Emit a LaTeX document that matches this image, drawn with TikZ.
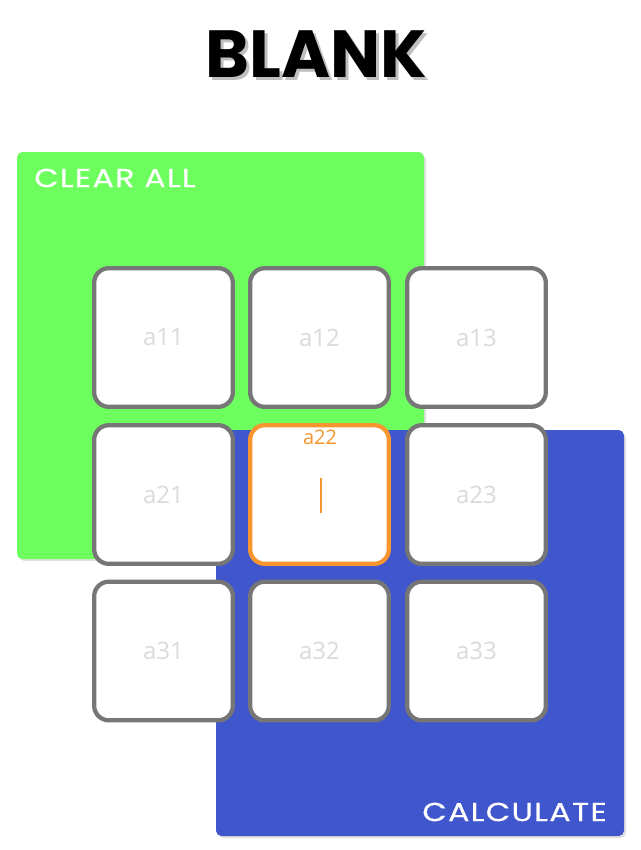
\documentclass[tikz,border=0pt]{standalone}
\usepackage{fontspec}
\setmainfont{Open Sans}
\newfontfamily\titlefont{Poppins}
\newfontfamily\btnfont[LetterSpace=5,FakeStretch=1.22,FakeBold=0.4]{Poppins}
\usetikzlibrary{positioning}
\definecolor{panelgreen}{HTML}{6CFF5E}
\definecolor{panelblue}{HTML}{4056CC}
\definecolor{cellgray}{HTML}{767676}
\definecolor{celltext}{HTML}{DADADA}
\definecolor{activeorange}{HTML}{F7962F}
\tikzset{
  cell/.style={draw=cellgray, line width=3.2pt, fill=white, rounded corners=11pt,
    minimum width=104pt, minimum height=104pt, inner sep=0pt,
    text=celltext, font=\fontsize{18}{20}\selectfont},
  activecell/.style={cell, draw=activeorange},
  panel/.style={rounded corners=4pt, draw=none},
  btntext/.style={text=white, font=\btnfont\fontsize{19.5}{22}\selectfont, inner sep=0pt},
}
\begin{document}
\begin{tikzpicture}[x=0.75pt,y=-0.75pt]
\useasboundingbox (0,0) rectangle (640,850);
\fill[white] (0,0) rectangle (640,850);
% title
\node[text=black!25, font=\titlefont\bfseries\fontsize{50}{56}\selectfont, inner sep=0pt] (titleshadow) at (319,57) {BLANK};
\node[text=black, font=\titlefont\bfseries\fontsize{50}{56}\selectfont, inner sep=0pt] (title) at (316,54) {BLANK};
% panels
\fill[black!12, panel] (19,155) rectangle (426,561);
\fill[panelgreen, panel] (17,152) rectangle (424,559);
\fill[black!12, panel] (218,433) rectangle (626,838);
\fill[panelblue, panel] (216,430) rectangle (624,836);
\node[btntext, anchor=west] (clear) at (34,178) {CLEAR ALL};
\node[btntext, anchor=east] (calc) at (607,812) {CALCULATE};
% cells
\node[cell] (a11) at (163.5,337.5) {a11};
\node[cell] (a12) at (319.5,337.5) {a12};
\node[cell] (a13) at (476.5,337.5) {a13};
\node[cell] (a21) at (163.5,494.5) {a21};
\node[activecell] (a22) at (319.5,494.5) {};
\node[cell] (a23) at (476.5,494.5) {a23};
\node[cell] (a31) at (163.5,651) {a31};
\node[cell] (a32) at (319.5,651) {a32};
\node[cell] (a33) at (476.5,651) {a33};
\node[text=activeorange, font=\fontsize{15}{17}\selectfont, inner sep=0pt] (a22label) at (320,437) {a22};
\coordinate (cursortop) at (321,478);
\coordinate (cursorbot) at (321,513);
\draw[activeorange, line width=2.2pt] (cursortop) -- (cursorbot);
\end{tikzpicture}
\end{document}
